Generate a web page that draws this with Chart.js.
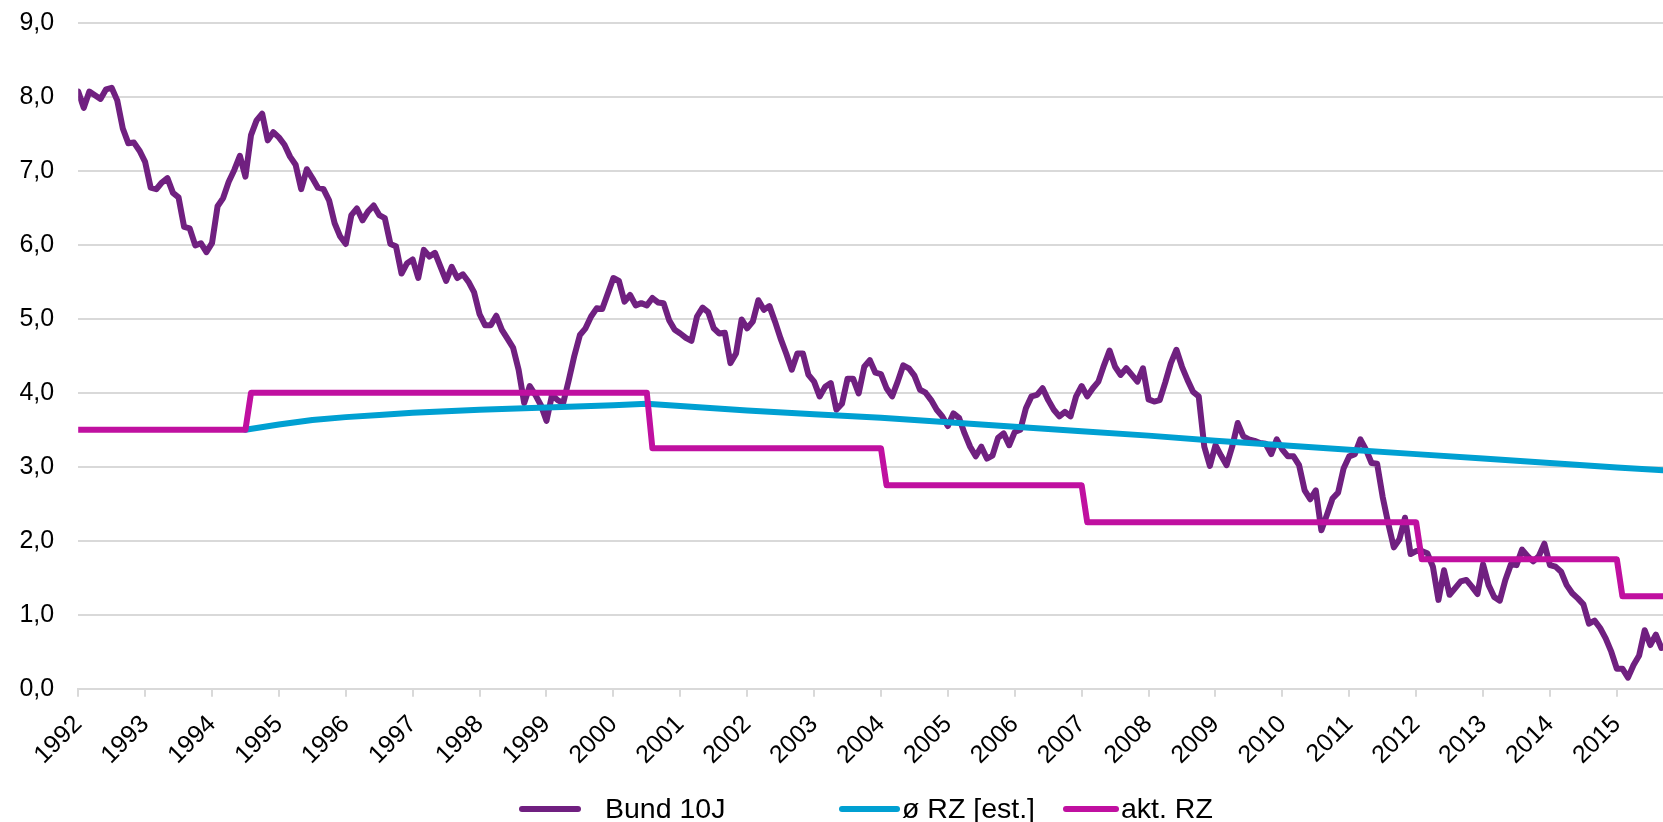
<!DOCTYPE html>
<html>
<head>
<meta charset="utf-8">
<script src="https://cdn.jsdelivr.net/npm/chart.js@4.4.1/dist/chart.umd.min.js"></script>
<style>
  html, body { margin: 0; padding: 0; background: #fff; }
  #chart { display: block; }
</style>
</head>
<body>
<canvas id="chart" width="1663" height="822"></canvas>
<script>
// Bund 10J vs. Rechnungszins — monthly series from Jan 1992
const START_YEAR = 1992;
const END_YEAR = 2015.69;          // picture is cut off a bit after Sep 2015

const seriesNames = ["Bund 10J", "ø RZ [est.]", "akt. RZ"];

// Bund 10J, one value per month (Jan 1992 ...)
const bund10 = [
  8.07, 7.85, 8.07, 8.02, 7.97, 8.10, 8.12, 7.95, 7.57, 7.37,
  7.38, 7.27, 7.12, 6.77, 6.75, 6.84, 6.90, 6.70, 6.64, 6.24,
  6.22, 5.99, 6.02, 5.90, 6.02, 6.52, 6.63, 6.85, 7.01, 7.20,
  6.92, 7.48, 7.68, 7.77, 7.41, 7.52, 7.45, 7.35, 7.19, 7.08,
  6.75, 7.02, 6.90, 6.77, 6.75, 6.60, 6.29, 6.11, 6.01, 6.40,
  6.49, 6.33, 6.45, 6.53, 6.40, 6.36, 6.01, 5.98, 5.61, 5.75,
  5.80, 5.55, 5.93, 5.84, 5.89, 5.70, 5.51, 5.70, 5.55, 5.60,
  5.50, 5.36, 5.06, 4.91, 4.91, 5.04, 4.85, 4.73, 4.61, 4.31,
  3.86, 4.09, 3.97, 3.83, 3.62, 3.97, 3.90, 3.86, 4.17, 4.50,
  4.78, 4.87, 5.03, 5.14, 5.13, 5.34, 5.55, 5.51, 5.23, 5.32,
  5.18, 5.21, 5.18, 5.28, 5.22, 5.21, 4.98, 4.85, 4.80, 4.74,
  4.70, 5.03, 5.15, 5.09, 4.87, 4.80, 4.81, 4.40, 4.53, 4.99,
  4.87, 4.96, 5.25, 5.12, 5.17, 4.96, 4.73, 4.53, 4.31, 4.53,
  4.53, 4.24, 4.15, 3.95, 4.08, 4.13, 3.77, 3.85, 4.19, 4.19,
  3.99, 4.35, 4.44, 4.27, 4.25, 4.06, 3.95, 4.15, 4.37, 4.33,
  4.23, 4.04, 4.00, 3.90, 3.77, 3.68, 3.55, 3.72, 3.66, 3.45,
  3.27, 3.14, 3.27, 3.11, 3.15, 3.39, 3.45, 3.29, 3.47, 3.50,
  3.79, 3.95, 3.97, 4.06, 3.90, 3.77, 3.68, 3.74, 3.68, 3.95,
  4.09, 3.95, 4.06, 4.15, 4.37, 4.57, 4.35, 4.24, 4.33, 4.24,
  4.15, 4.33, 3.91, 3.88, 3.90, 4.14, 4.40, 4.58, 4.35, 4.17,
  4.01, 3.95, 3.27, 3.01, 3.29, 3.15, 3.02, 3.27, 3.59, 3.41,
  3.37, 3.35, 3.32, 3.31, 3.17, 3.37, 3.23, 3.14, 3.14, 3.02,
  2.68, 2.56, 2.68, 2.14, 2.35, 2.57, 2.65, 2.98, 3.14, 3.17,
  3.37, 3.23, 3.05, 3.04, 2.59, 2.23, 1.91, 2.02, 2.31, 1.82,
  1.86, 1.86, 1.83, 1.65, 1.20, 1.60, 1.27, 1.36, 1.45, 1.47,
  1.38, 1.28, 1.68, 1.40, 1.24, 1.19, 1.47, 1.68, 1.67, 1.88,
  1.79, 1.72, 1.79, 1.96, 1.67, 1.65, 1.58, 1.40, 1.29, 1.22,
  1.14, 0.88, 0.92, 0.82, 0.68, 0.50, 0.27, 0.27, 0.15, 0.32,
  0.45, 0.79, 0.59, 0.73, 0.55
];

// ø RZ [est.] — read at these dates
const rzEstYears  = [1994.5, 1995, 1995.5, 1996, 1996.5, 1997, 1998, 1999, 2000, 2000.5,
                     2001, 2002, 2003, 2004, 2005, 2006, 2007, 2008, 2009, 2010,
                     2011, 2012, 2013, 2014, 2015, 2015.7];
const rzEstValues = [3.50, 3.57, 3.63, 3.67, 3.70, 3.73, 3.77, 3.80, 3.83, 3.85,
                     3.82, 3.76, 3.71, 3.66, 3.60, 3.54, 3.48, 3.42, 3.35, 3.29,
                     3.23, 3.17, 3.11, 3.05, 2.99, 2.95];

// akt. RZ — breakpoints, month index since Jan 1992
const rzAktMonths = [0, 30, 31, 102, 103, 144, 145, 180, 181, 240, 241, 276, 277, 285];
const rzAktValues = [3.5, 3.5, 4.0, 4.0, 3.25, 3.25, 2.75, 2.75, 2.25, 2.25, 1.75, 1.75, 1.25, 1.25];

const PURPLE = "#702080";
const BLUE = "#00a0d2";
const MAGENTA = "#c010a0";
const GRID = "#d9d9d9";
const FONT = "'Liberation Sans', Arial, sans-serif";

const monthToYear = m => START_YEAR + m / 12;

// legend drawn by hand: [line start, line end, text start]
const legendPos = [[522, 578, 605], [842, 897, 902], [1066, 1116, 1121]];
const legendColors = [PURPLE, BLUE, MAGENTA];

const bottomLegend = {
  id: "bottomLegend",
  afterDraw(chart) {
    const ctx = chart.ctx;
    ctx.save();
    ctx.lineCap = "round";
    ctx.lineWidth = 6;
    ctx.font = "28.5px " + FONT;
    ctx.fillStyle = "#000";
    ctx.textBaseline = "alphabetic";
    seriesNames.forEach((name, i) => {
      const [x0, x1, tx] = legendPos[i];
      ctx.strokeStyle = legendColors[i];
      ctx.beginPath();
      ctx.moveTo(x0, 809);
      ctx.lineTo(x1, 809);
      ctx.stroke();
      ctx.fillText(name, tx, 818);
    });
    ctx.restore();
  }
};

new Chart(document.getElementById("chart"), {
  type: "line",
  data: {
    datasets: [
      {
        label: seriesNames[2],
        data: rzAktMonths.map((m, i) => ({ x: monthToYear(m), y: rzAktValues[i] })),
        borderColor: MAGENTA,
        order: 1
      },
      {
        label: seriesNames[1],
        data: rzEstYears.map((x, i) => ({ x, y: rzEstValues[i] })),
        borderColor: BLUE,
        order: 2
      },
      {
        label: seriesNames[0],
        data: bund10.map((v, i) => ({ x: monthToYear(i), y: v })),
        borderColor: PURPLE,
        order: 3
      }
    ]
  },
  options: {
    responsive: false,
    animation: false,
    layout: { padding: { top: 22.7, left: 0, right: 0, bottom: 0 } },
    elements: {
      point: { radius: 0 },
      line: { borderWidth: 6, tension: 0, borderJoinStyle: "round", borderCapStyle: "round", fill: false }
    },
    plugins: { legend: { display: false }, tooltip: { enabled: false } },
    scales: {
      x: {
        type: "linear",
        min: START_YEAR,
        max: END_YEAR,
        afterFit: s => { s.height = 133.3; },
        grid: { drawOnChartArea: false, drawTicks: true, tickLength: 8, color: GRID, lineWidth: 2 },
        border: { display: true, color: GRID, width: 2 },
        ticks: {
          stepSize: 1,
          autoSkip: false,
          includeBounds: false,
          maxTicksLimit: 40,
          minRotation: 45,
          maxRotation: 45,
          padding: 13,
          color: "#000",
          font: { family: FONT, size: 25 },
          callback: v => String(Math.round(v))
        }
      },
      y: {
        min: 0,
        max: 9,
        afterFit: s => { s.width = 78.2; },
        // invisible tick marks make the gap between labels and grid
        grid: { color: GRID, lineWidth: 2, drawTicks: true, tickLength: 24, tickColor: "rgba(0,0,0,0)" },
        border: { display: false },
        ticks: {
          stepSize: 1,
          padding: 0,
          color: "#000",
          font: { family: FONT, size: 25 },
          callback: v => v.toFixed(1).replace(".", ",")
        }
      }
    }
  },
  plugins: [bottomLegend]
});
</script>
</body>
</html>
